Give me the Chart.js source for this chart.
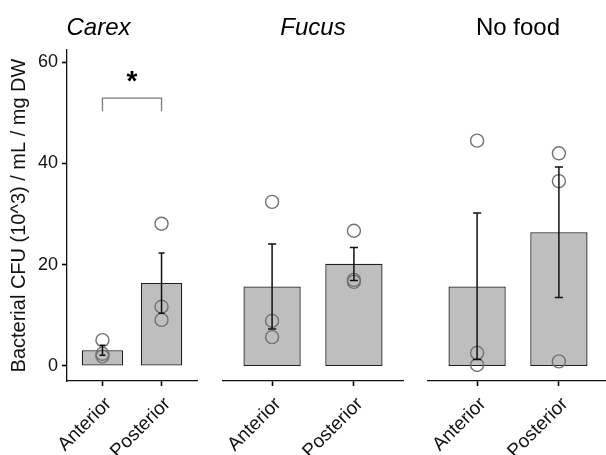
<!DOCTYPE html>
<html>
<head>
<meta charset="utf-8">
<script src="https://cdn.jsdelivr.net/npm/chart.js@4/dist/chart.umd.min.js"></script>
<style>
  html, body { margin: 0; padding: 0; overflow: hidden; background: #fff; width: 606px; height: 455px; }
  canvas { position: absolute; top: 0; }
</style>
</head>
<body>
<canvas id="panel0" width="202" height="455" style="left:0px"></canvas>
<canvas id="panel1" width="202" height="455" style="left:202px"></canvas>
<canvas id="panel2" width="206" height="455" style="left:404px"></canvas>
<script>
// Food treatments (one panel each) and gut sections (bars within a panel)
const facets = ['Carex', 'Fucus', 'No food'];
const facetItalic = [true, true, false];
const positions = ['Anterior', 'Posterior'];

// Mean bacterial CFU per panel, [Anterior, Posterior]
const meanCFU = [[3.1, 16.4], [15.7, 20.2], [15.7, 26.4]];
// Error bar limits (mean - SE, mean + SE)
const seLow  = [[2.1, 10.4], [7.3, 16.9], [1.3, 13.5]];
const seHigh = [[4.1, 22.3], [24.1, 23.4], [30.2, 39.3]];
// Individual replicates
const replicateCFU = [
  [[5.1, 2.4, 1.9], [28.1, 11.7, 9.1]],
  [[32.4, 8.9, 5.7], [26.7, 17.0, 16.6]],
  [[44.5, 2.6, 0.2], [42.0, 36.5, 0.9]]
];

const yTicks = [0, 20, 40, 60];
const yTickLabels = ['0', '20', '40', '60'];
const yTitle = 'Bacterial CFU (10^3) / mL / mg DW';

// Significance bracket in the Carex panel: bracket height, tip height, label
const sigFacet = 0;
const sigLevels = [52.9, 50.3];
const sigLabel = '*';

const FONT = "'Liberation Sans', Arial, Helvetica, sans-serif";
Chart.defaults.font.family = FONT;
Chart.defaults.color = '#111';

const INK = '#111';
const CAP = 0.1; // error bar cap width, in x units

const errorBars = {
  id: 'errorBars',
  afterDatasetsDraw(chart, args, opts) {
    const { ctx, scales: { x, y } } = chart;
    const i = opts.facet;
    const half = (x.getPixelForValue(1 + CAP / 2) - x.getPixelForValue(1));
    ctx.save();
    ctx.strokeStyle = '#111';
    ctx.lineWidth = 1.5;
    positions.forEach((p, j) => {
      const cx = x.getPixelForValue(j + 1);
      const top = y.getPixelForValue(seHigh[i][j]);
      const bot = y.getPixelForValue(seLow[i][j]);
      ctx.beginPath();
      ctx.moveTo(cx, top); ctx.lineTo(cx, bot);
      ctx.moveTo(cx - half, top); ctx.lineTo(cx + half, top);
      ctx.moveTo(cx - half, bot); ctx.lineTo(cx + half, bot);
      ctx.stroke();
    });
    if (i === sigFacet) {
      const x1 = x.getPixelForValue(1), x2 = x.getPixelForValue(2);
      const yb = y.getPixelForValue(sigLevels[0]);
      const yt = y.getPixelForValue(sigLevels[1]);
      ctx.strokeStyle = '#7a7a7a';
      ctx.lineWidth = 1.3;
      ctx.beginPath();
      ctx.moveTo(x1, yt); ctx.lineTo(x1, yb); ctx.lineTo(x2, yb); ctx.lineTo(x2, yt);
      ctx.stroke();
      ctx.fillStyle = '#000';
      ctx.font = 'bold 28px ' + FONT;
      ctx.textAlign = 'center';
      ctx.textBaseline = 'alphabetic';
      ctx.fillText(sigLabel, (x1 + x2) / 2, yb - 8);
    }
    ctx.restore();
  }
};

function makePanel(i, padLeft, padRight) {
  const bars = positions.map((p, j) => ({ x: j + 1, y: meanCFU[i][j] }));
  const points = [];
  positions.forEach((p, j) => replicateCFU[i][j].forEach(v => points.push({ x: j + 1, y: v })));
  const showY = i === 0;

  return new Chart(document.getElementById('panel' + i), {
    type: 'bar',
    data: {
      datasets: [
        {
          type: 'bar', data: bars, order: 2,
          backgroundColor: '#bebebe', borderColor: '#1e1e1e', borderWidth: 1.3,
          borderSkipped: false, barPercentage: 0.7, categoryPercentage: 1.0
        },
        {
          type: 'scatter', data: points, order: 1,
          pointRadius: 6.5, pointBorderWidth: 1.4,
          pointBorderColor: '#727272', pointBackgroundColor: 'rgba(0,0,0,0)'
        }
      ]
    },
    plugins: [errorBars],
    options: {
      responsive: false,
      animation: false,
      events: [],
      layout: { autoPadding: false, padding: { left: padLeft, right: padRight, top: 0, bottom: 0 } },
      plugins: {
        legend: { display: false },
        tooltip: { enabled: false },
        errorBars: { facet: i },
        title: {
          display: true, text: facets[i], color: '#000',
          font: { size: 24, weight: 'normal', style: facetItalic[i] ? 'italic' : 'normal' },
          padding: { top: 14, bottom: 7.2 }
        }
      },
      scales: {
        x: {
          type: 'linear', min: 0.4, max: 2.6, offset: false,
          afterBuildTicks: s => { s.ticks = positions.map((p, j) => ({ value: j + 1 })); },
          afterFit: s => { s.height = 74; },
          ticks: {
            autoSkip: false, minRotation: 45, maxRotation: 45, padding: 7, labelOffset: 6,
            font: { size: 19 }, color: INK,
            callback: v => positions[Math.round(v) - 1]
          },
          grid: { offset: false, drawOnChartArea: false, drawTicks: true, tickLength: 5, tickColor: '#000', tickWidth: 1.6 },
          border: { color: INK, width: 1.3 }
        },
        y: {
          display: showY,
          min: -2.97, max: 62.4,
          afterBuildTicks: s => { s.ticks = yTicks.map(v => ({ value: v })); },
          afterFit: s => { if (showY) s.width = 67; },
          ticks: {
            padding: 4, font: { size: 18 }, color: INK,
            callback: v => yTickLabels[yTicks.indexOf(v)]
          },
          grid: { drawOnChartArea: false, tickLength: 5, tickColor: '#000', tickWidth: 1.6 },
          border: { color: INK, width: 1.3 },
          title: {
            display: true, text: yTitle, color: '#111',
            font: { size: 20 }, padding: { top: 7, bottom: 0 }
          }
        }
      }
    }
  });
}

makePanel(0, 0, 5);
makePanel(1, 21, 1);
makePanel(2, 24, 2);
</script>
</body>
</html>
